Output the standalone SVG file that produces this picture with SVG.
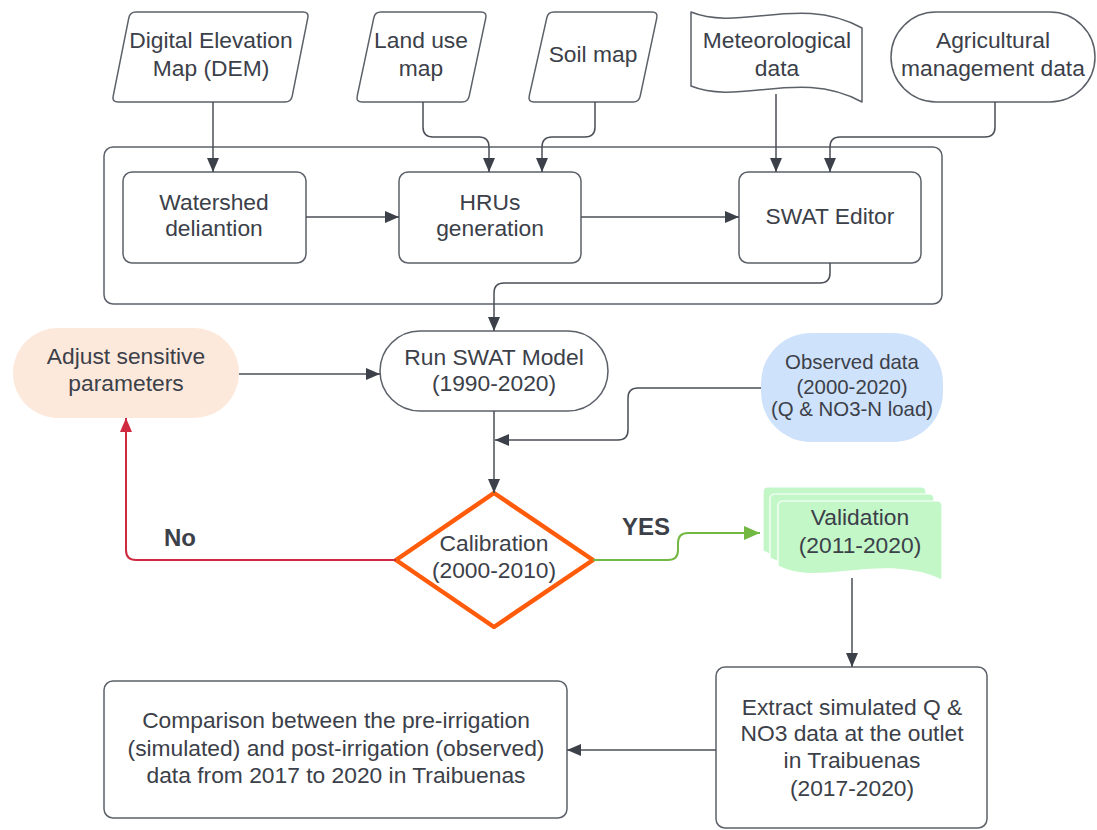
<svg xmlns="http://www.w3.org/2000/svg" width="1097" height="830" viewBox="0 0 1097 830">
  <defs>
    <style>
      .node { fill: #ffffff; stroke: #5b6069; stroke-width: 1.5; stroke-linejoin: round; }
      .lbl { font-family: "Liberation Sans", Arial, sans-serif; font-size: 22.8px; fill: #3b4049; text-anchor: middle; }
      .small { font-size: 20.4px; }
      .bold { font-weight: bold; font-size: 24px; }
      .conn { fill: none; stroke: #4a4f57; stroke-width: 1.5; }
      .red { stroke: #cf2a3f; stroke-width: 2; }
      .green { stroke: #72b843; stroke-width: 2; }
      .doc { fill: #c3f7c8; stroke: #ffffff; stroke-width: 1.2; }
    </style>
    <marker id="arrow" markerUnits="userSpaceOnUse" markerWidth="14" markerHeight="12" refX="14" refY="6" orient="auto">
      <path d="M0,0 L14,6 L0,12 Z" fill="#3b4049"/>
    </marker>
    <marker id="arrowRed" markerUnits="userSpaceOnUse" markerWidth="14" markerHeight="12" refX="14" refY="6" orient="auto">
      <path d="M0,0 L14,6 L0,12 Z" fill="#cf2a3f"/>
    </marker>
    <marker id="arrowGreen" markerUnits="userSpaceOnUse" markerWidth="16" markerHeight="14" refX="16" refY="7" orient="auto">
      <path d="M0,0 L16,7 L0,14 Z" fill="#72b843"/>
    </marker>
  </defs>

  <!-- processing container -->
  <g id="container">
    <rect class="node" x="104" y="147" width="838" height="157" rx="9"/>
  </g>

  <!-- inputs -->
  <g id="dem">
    <path class="node" d="M136,12 H303 Q309,12 307.8,17.9 L292.2,96.1 Q291,102 285,102 H118 Q112,102 113.2,96.1 L128.8,17.9 Q130,12 136,12 Z"/>
    <text class="lbl" x="211" y="48">Digital Elevation</text>
    <text class="lbl" x="211" y="76">Map (DEM)</text>
  </g>
  <g id="landuse">
    <path class="node" d="M381,12 H481 Q487,12 485.8,17.9 L469.2,96.1 Q468,102 462,102 H362 Q356,102 357.2,96.1 L373.8,17.9 Q375,12 381,12 Z"/>
    <text class="lbl" x="421" y="48">Land use</text>
    <text class="lbl" x="421" y="76">map</text>
  </g>
  <g id="soil">
    <path class="node" d="M554,12 H652 Q658,12 656.8,17.9 L640.2,96.1 Q639,102 633,102 H534 Q528,102 529.2,96.1 L546.8,17.9 Q548,12 554,12 Z"/>
    <text class="lbl" x="593" y="62">Soil map</text>
  </g>
  <g id="meteo">
    <path class="node" d="M691,12 C740,32 800,-6 862,28 L862,102 C800,68 740,106 691,86 Z"/>
    <text class="lbl" x="777" y="48">Meteorological</text>
    <text class="lbl" x="777" y="76">data</text>
  </g>
  <g id="agri">
    <rect class="node" x="891" y="12" width="204" height="90" rx="45"/>
    <text class="lbl" x="993" y="48">Agricultural</text>
    <text class="lbl" x="993" y="76">management data</text>
  </g>

  <!-- processing steps -->
  <g id="watershed">
    <rect class="node" x="123" y="172" width="183" height="91" rx="9"/>
    <text class="lbl" x="214" y="210">Watershed</text>
    <text class="lbl" x="214" y="236">deliantion</text>
  </g>
  <g id="hrus">
    <rect class="node" x="399" y="172" width="182" height="91" rx="9"/>
    <text class="lbl" x="490" y="210">HRUs</text>
    <text class="lbl" x="490" y="236">generation</text>
  </g>
  <g id="swateditor">
    <rect class="node" x="739" y="172" width="182" height="91" rx="9"/>
    <text class="lbl" x="830" y="224">SWAT Editor</text>
  </g>

  <!-- model loop -->
  <g id="adjust">
    <rect x="13" y="328" width="226" height="90" rx="45" fill="#fde9dc"/>
    <text class="lbl" x="126" y="364">Adjust sensitive</text>
    <text class="lbl" x="126" y="391">parameters</text>
  </g>
  <g id="runswat">
    <rect class="node" x="380" y="331" width="228" height="80" rx="40"/>
    <text class="lbl" x="494" y="365">Run SWAT Model</text>
    <text class="lbl" x="494" y="391">(1990-2020)</text>
  </g>
  <g id="observed">
    <rect x="761" y="333" width="182" height="109" rx="50" fill="#cfe2fb"/>
    <text class="lbl small" x="852" y="369">Observed data</text>
    <text class="lbl small" x="852" y="394">(2000-2020)</text>
    <text class="lbl small" x="852" y="416">(Q &amp; NO3-N load)</text>
  </g>
  <g id="calibration">
    <polygon points="494,493 593,560 494,627 396,560" fill="#ffffff" stroke="#ff5b0a" stroke-width="4.5" stroke-linejoin="round"/>
    <text class="lbl" x="494" y="551">Calibration</text>
    <text class="lbl" x="494" y="578">(2000-2010)</text>
  </g>
  <g id="validation">
    <path class="doc" d="M763,492 Q763,487 768,487 H921 Q926,487 926,492 V566 C864,538 804,573 763,551 Z"/>
    <path class="doc" d="M770,499 Q770,494 775,494 H929 Q934,494 934,499 V573 C872,545 812,580 770,558 Z"/>
    <path class="doc" d="M778,506 Q778,501 783,501 H937 Q942,501 942,506 V580 C880,552 820,588 778,566 Z"/>
    <text class="lbl" x="860" y="525">Validation</text>
    <text class="lbl" x="860" y="553">(2011-2020)</text>
  </g>
  <g id="extract">
    <rect class="node" x="716" y="667" width="271" height="161" rx="9"/>
    <text class="lbl" x="852" y="715">Extract simulated Q &amp;</text>
    <text class="lbl" x="852" y="741">NO3 data at the outlet</text>
    <text class="lbl" x="852" y="768">in Traibuenas</text>
    <text class="lbl" x="852" y="796">(2017-2020)</text>
  </g>
  <g id="comparison">
    <rect class="node" x="104" y="681" width="463" height="137" rx="9"/>
    <text class="lbl" x="336" y="728">Comparison between the pre-irrigation</text>
    <text class="lbl" x="336" y="756">(simulated) and post-irrigation (observed)</text>
    <text class="lbl" x="336" y="783">data from 2017 to 2020 in Traibuenas</text>
  </g>

  <!-- connectors -->
  <g id="connectors">
    <path class="conn" d="M213,102 V172" marker-end="url(#arrow)"/>
    <path class="conn" d="M423,102 V127 Q423,137 433,137 H479 Q489,137 489,147 V172" marker-end="url(#arrow)"/>
    <path class="conn" d="M595,102 V127 Q595,137 585,137 H552 Q542,137 542,147 V172" marker-end="url(#arrow)"/>
    <path class="conn" d="M776,94 V172" marker-end="url(#arrow)"/>
    <path class="conn" d="M995,102 V127 Q995,137 985,137 H840 Q830,137 830,147 V172" marker-end="url(#arrow)"/>
    <path class="conn" d="M306,217 H399" marker-end="url(#arrow)"/>
    <path class="conn" d="M581,217 H739" marker-end="url(#arrow)"/>
    <path class="conn" d="M830,263 V273 Q830,283 820,283 H504 Q494,283 494,293 V331" marker-end="url(#arrow)"/>
    <path class="conn" d="M239,374 H380" marker-end="url(#arrow)"/>
    <path class="conn" d="M761,388 H638 Q628,388 628,398 V430 Q628,440 618,440 H495" marker-end="url(#arrow)"/>
    <path class="conn" d="M494,411 V493" marker-end="url(#arrow)"/>
    <path class="conn red" d="M396,560 H136 Q126,560 126,550 V418" marker-end="url(#arrowRed)"/>
    <path class="conn green" d="M593,560 H668 Q678,560 678,550 V543 Q678,533 688,533 H760" marker-end="url(#arrowGreen)"/>
    <path class="conn" d="M852,578 V667" marker-end="url(#arrow)"/>
    <path class="conn" d="M716,750 H567" marker-end="url(#arrow)"/>
    <text class="lbl bold" x="180" y="546">No</text>
    <text class="lbl bold" x="646" y="535">YES</text>
  </g>
</svg>
